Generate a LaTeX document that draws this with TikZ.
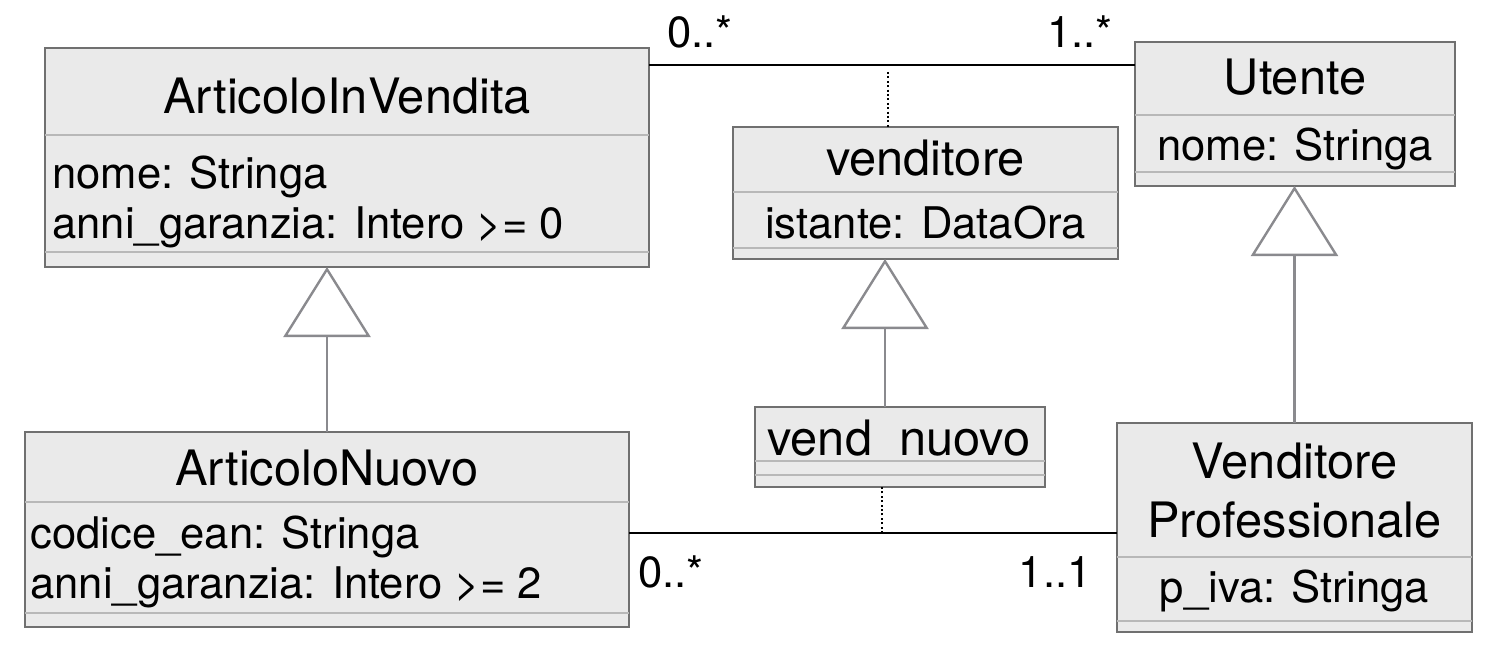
\documentclass[tikz,border=0pt]{standalone}
\usepackage{fontspec}
\setmainfont{TeX Gyre Heros}
\usetikzlibrary{arrows.meta,calc}
\definecolor{boxfill}{RGB}{234,234,234}
\definecolor{boxline}{RGB}{112,112,112}
\definecolor{sepline}{RGB}{184,184,184}
\definecolor{genline}{RGB}{138,138,142}
\tikzset{
  classbox/.style={draw=boxline, fill=boxfill, line width=0.75pt, anchor=north west, inner sep=0pt, outer sep=0pt},
  divider/.style={draw=sepline, line width=0.75pt},
  classname/.style={anchor=base, inner sep=0pt, font=\fontsize{24.4pt}{29pt}\selectfont},
  attr/.style={anchor=base west, inner sep=0pt, font=\fontsize{21.8pt}{26pt}\selectfont},
  attrc/.style={attr, anchor=base},
  mult/.style={attr},
  assoc/.style={line width=1.3pt},
  assocclass/.style={line width=1.2pt, dash pattern=on 1pt off 1.2pt},
  gen/.style={draw=genline, line width=1.2pt, -{Triangle[open, length=35pt, width=43.5pt]}}
}
\begin{document}
\begin{tikzpicture}[x=0.5pt, y=-0.5pt]
\useasboundingbox (0,0) rectangle (1498,658);
% classi
\node[classbox, minimum width=302pt, minimum height=109.5pt] (aiv) at (45,48) {};
\node[classbox, minimum width=160pt, minimum height=72pt] (ut) at (1135,42) {};
\node[classbox, minimum width=192.5pt, minimum height=66pt] (ven) at (733,127) {};
\node[classbox, minimum width=145pt, minimum height=40pt] (vn) at (755,407) {};
\node[classbox, minimum width=177.5pt, minimum height=104.5pt] (vp) at (1117,423) {};
\node[classbox, minimum width=302pt, minimum height=97.5pt] (an) at (25,432) {};
% separatori
\draw[divider] (aiv.west |- 0,135) -- (aiv.east |- 0,135);
\draw[divider] (aiv.west |- 0,252) -- (aiv.east |- 0,252);
\draw[divider] (ut.west |- 0,115) -- (ut.east |- 0,115);
\draw[divider] (ut.west |- 0,172) -- (ut.east |- 0,172);
\draw[divider] (ven.west |- 0,192) -- (ven.east |- 0,192);
\draw[divider] (ven.west |- 0,248) -- (ven.east |- 0,248);
\draw[divider] (vn.west |- 0,461) -- (vn.east |- 0,461);
\draw[divider] (vn.west |- 0,475) -- (vn.east |- 0,475);
\draw[divider] (vp.west |- 0,557) -- (vp.east |- 0,557);
\draw[divider] (vp.west |- 0,621) -- (vp.east |- 0,621);
\draw[divider] (an.west |- 0,502) -- (an.east |- 0,502);
\draw[divider] (an.west |- 0,613) -- (an.east |- 0,613);
% testi
\node[classname] (aivName) at (347,113) {ArticoloInVendita};
\node[attr] (aivA1) at (52,188) {nome: Stringa};
\node[attr] (aivA2) at (52,238) {anni\_garanzia: Intero >= 0};
\node[classname] (utName) at (1295,95) {Utente};
\node[attrc] (utA1) at (1295,160) {nome: Stringa};
\node[classname] (venName) at (925.5,175) {venditore};
\node[attrc] (venA1) at (925.5,238) {istante: DataOra};
\node[classname] (vnName) at (899,455) {vend\phantom{\_}nuovo};
\node[classname] (vpName1) at (1294.5,478) {Venditore};
\node[classname] (vpName2) at (1294.5,537) {Professionale};
\node[attrc] (vpA1) at (1294.5,602) {p\_iva: Stringa};
\node[classname] (anName) at (327,485) {ArticoloNuovo};
\node[attr] (anA1) at (30,548) {codice\_ean: Stringa};
\node[attr] (anA2) at (30,598) {anni\_garanzia: Intero >= 2};
% generalizzazioni
\coordinate (vnTop) at ([xshift=-7.5pt]vn.north);
\draw[gen] (an.north) -- (an.north |- aiv.south);
\draw[gen] (vnTop) -- (vnTop |- ven.south);
\draw[gen] (vp.north) -- (vp.north |- ut.south);
% associazioni
\coordinate (topL) at ([yshift=-8.5pt]aiv.north east);
\coordinate (topR) at (topL -| ut.west);
\coordinate (topM) at ([xshift=-2pt]$(topL)!0.5!(topR)$);
\draw[assoc] (topL) -- (topR);
\draw[assocclass] ([yshift=-3.5pt]topM) -- (topM |- ven.north);
\coordinate (botL) at ([yshift=-1.75pt]an.east);
\coordinate (botR) at (botL -| vp.west);
\coordinate (botM) at ([xshift=4.5pt]$(botL)!0.5!(botR)$);
\draw[assoc] (botL) -- (botR);
\draw[assocclass] (botM) -- (botM |- vn.south);
% molteplicita
\node[mult] (m1) at (667,48) {0..*};
\node[mult, anchor=base east] (m2) at (1113,48) {1..*};
\node[mult] (m3) at (638,587) {0..*};
\node[mult, anchor=base east] (m4) at (1092,587) {1..1};
\end{tikzpicture}
\end{document}
